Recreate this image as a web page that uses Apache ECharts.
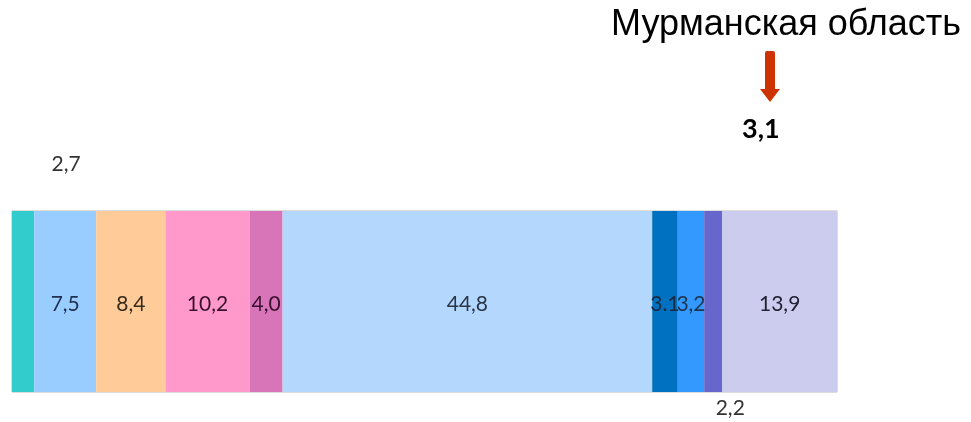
<!DOCTYPE html>
<html>
<head>
<meta charset="utf-8">
<script src="https://cdn.jsdelivr.net/npm/echarts@6/dist/echarts.min.js"></script>
<style>
  html, body { margin: 0; padding: 0; background: #fff; }
  #chart { width: 971px; height: 422px; }
</style>
</head>
<body>
<div id="chart"></div>
<script>
// shares of one whole, left to right
const values = [2.7, 7.5, 8.4, 10.2, 4.0, 44.8, 3.1, 3.2, 2.2, 13.9]
const labels = ['2,7', '7,5', '8,4', '10,2', '4,0', '44,8', '3.1', '3,2', '2,2', '13,9']
const colors = ['#33cccc', '#99ccff', '#ffcc99', '#ff99cc', '#d874b8', '#b3d7fd', '#0070c0', '#3399ff', '#6666cc', '#ccccee']
const textColors = ['#333333', '#1f2f4f', '#3a2a1a', '#3a1030', '#3a1030', '#2a3548', '#1a2a40', '#1f3550', '#333333', '#222233']
const category = ['Регионы']
const title = 'Мурманская область'
const highlight = '3,1'

const chart = echarts.init(document.getElementById('chart'))

function labelFor(i) {
  const base = {
    show: true,
    formatter: labels[i],
    fontFamily: 'Lato',
    fontSize: 21,
    color: textColors[i]
  }
  if (i === 0) return { ...base, position: 'top', distance: 5, offset: [43, -31] }
  if (i === 8) return { ...base, position: 'bottom', distance: 5, offset: [17, 1] }
  return { ...base, position: 'inside', offset: [0, 3] }
}

const series = values.map((v, i) => ({
  name: labels[i],
  type: 'bar',
  stack: 'total',
  barWidth: '100%',
  data: [v],
  itemStyle: { color: colors[i] },
  label: labelFor(i),
  emphasis: { disabled: true }
}))

chart.setOption({
  animation: false,
  title: {
    text: title,
    right: 5,
    top: 2,
    textStyle: { fontFamily: 'Liberation Sans', fontWeight: 'normal', fontSize: 36, color: '#000' }
  },
  grid: {
    left: 12, right: 134, top: 211, height: 181,
    show: true, borderColor: '#bbbbbb', borderWidth: 1
  },
  xAxis: { type: 'value', min: 0, max: 100, show: false },
  yAxis: { type: 'category', data: category, show: false },
  series,
  graphic: [
    // red arrow
    { type: 'rect', shape: { x: 765, y: 51, width: 10, height: 39, r: [2, 2, 0, 0] }, style: { fill: '#cc3300' } },
    { type: 'polygon', shape: { points: [[760, 89], [780, 89], [770, 102]] }, style: { fill: '#cc3300' } },
    {
      type: 'text', left: 742, top: 116,
      style: { text: highlight, font: 'bold 27px Lato', fill: '#000' }
    },
    // small blue tick inside last segment
    { type: 'line', shape: { x1: 772, y1: 372, x2: 779, y2: 385 }, style: { stroke: '#0070c0', lineWidth: 2 } }
  ]
})
</script>
</body>
</html>
